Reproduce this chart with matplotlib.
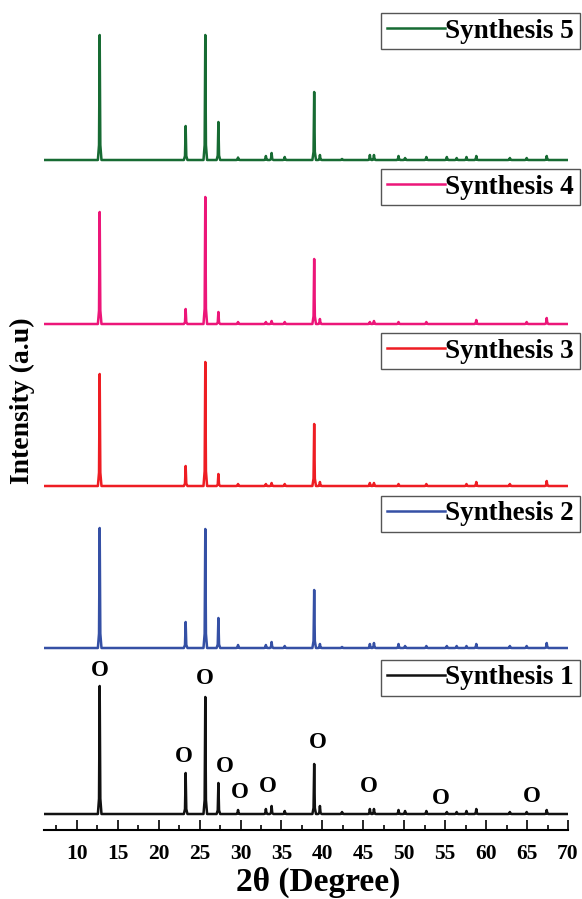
import matplotlib
matplotlib.use("Agg")
import matplotlib.pyplot as plt
import numpy as np

plt.rcParams['font.family'] = ['Liberation Serif', 'DejaVu Serif']
plt.rcParams['font.weight'] = 'bold'

# peak positions (2theta) shared by all samples
peak_pos = [12.8, 23.3, 25.7, 27.3, 29.7, 33.1, 33.8, 35.4, 39.0, 39.7, 42.4,
            45.8, 46.3, 49.3, 50.1, 52.7, 55.2, 56.4, 57.6, 58.8, 62.9, 64.95, 67.4]

# peak heights per sample (a.u.)
s1_h = [128, 41, 117, 31, 4, 5, 8, 3, 50, 8, 2, 5, 5, 4, 3, 3, 2, 2, 3, 5, 2, 2, 4]
s2_h = [120, 26, 119, 30, 3, 3, 6, 2, 58, 4, 1, 4, 5, 4, 2, 2, 2, 2, 2, 4, 2, 2, 5]
s3_h = [112, 20, 124, 12, 2, 2, 3, 2, 62, 4, 0, 3, 3, 2, 0, 2, 0, 0, 2, 4, 2, 0, 5]
s4_h = [112, 15, 127, 12, 2, 2, 3, 2, 65, 5, 0, 2, 3, 2, 0, 2, 0, 0, 0, 4, 0, 2, 6]
s5_h = [125, 34, 125, 38, 2.5, 4, 7, 3, 68, 5, 1, 5, 5, 4, 2, 3, 3, 2, 3, 4, 2, 2, 4]

names = ['Synthesis 1', 'Synthesis 2', 'Synthesis 3', 'Synthesis 4', 'Synthesis 5']
heights = [s1_h, s2_h, s3_h, s4_h, s5_h]
offsets = [0, 166, 328, 490, 654]
colors = ['#111111', '#3550a5', '#ee1d23', '#ec1679', '#176b33']
legend_y = [678, 514, 351, 187, 31]  # legend box centres, pixels from top

# phase marks "O" for synthesis 1
o_x = [12.8, 25.7, 23.1, 28.1, 29.9, 33.3, 39.45, 45.7, 54.45, 65.6]
o_y = [143, 136, 58, 47, 22, 27, 72, 27, 15, 18]

xmin, xmax = 6, 70


def pattern(h):
    xs = [xmin]
    ys = [0]
    for p, v in zip(peak_pos, h):
        if v == 0:
            continue
        xs += [p - 0.22, p - 0.08, p, p + 0.08, p + 0.22]
        ys += [0, 0.12 * v, v, 0.12 * v, 0]
    xs.append(xmax)
    ys.append(0)
    return np.array(xs), np.array(ys)


fig = plt.figure(figsize=(5.82, 8.99), dpi=100)
ax = fig.add_axes([44 / 582, 69 / 899, 524 / 582, 830 / 899])

for i in range(5):
    x, y = pattern(heights[i])
    line, = ax.plot(x, y + offsets[i], color=colors[i], lw=1.8)
    leg = fig.legend(handles=[line], labels=[names[i]], loc='center right',
                     bbox_to_anchor=(580 / 582, 1 - legend_y[i] / 899),
                     bbox_transform=fig.transFigure, fontsize=19.5,
                     frameon=True, fancybox=False, edgecolor='#555555',
                     framealpha=1, handlelength=2.15, handletextpad=0.0,
                     borderpad=0.22, borderaxespad=0)
    leg.get_frame().set_linewidth(1.0)

for xo, yo in zip(o_x, o_y):
    ax.text(xo, yo, 'O', ha='center', va='center', fontsize=16.5, fontweight='bold')

ax.set_xlim(xmin, xmax)
ax.set_ylim(-16, 814)
ax.set_xticks(np.arange(10, 71, 5))
ax.set_xticks(np.arange(7.5, 70, 5), minor=True)
ax.set_yticks([])
for s in ['left', 'top', 'right']:
    ax.spines[s].set_visible(False)
ax.spines['bottom'].set_linewidth(1.5)
ax.tick_params(axis='x', which='major', direction='in', length=7, width=1.2,
               labelsize=15.5, pad=10)
ax.tick_params(axis='x', which='minor', direction='in', length=3.5, width=1.2)

ax.set_xlabel('2θ (Degree)', fontsize=24, fontweight='bold')
ax.xaxis.set_label_coords(0.523, -0.044)
ax.set_ylabel('Intensity (a.u)', fontsize=20, fontweight='bold')
ax.yaxis.set_label_coords(-0.017, 0.517)

plt.savefig('out.png', dpi=100)
